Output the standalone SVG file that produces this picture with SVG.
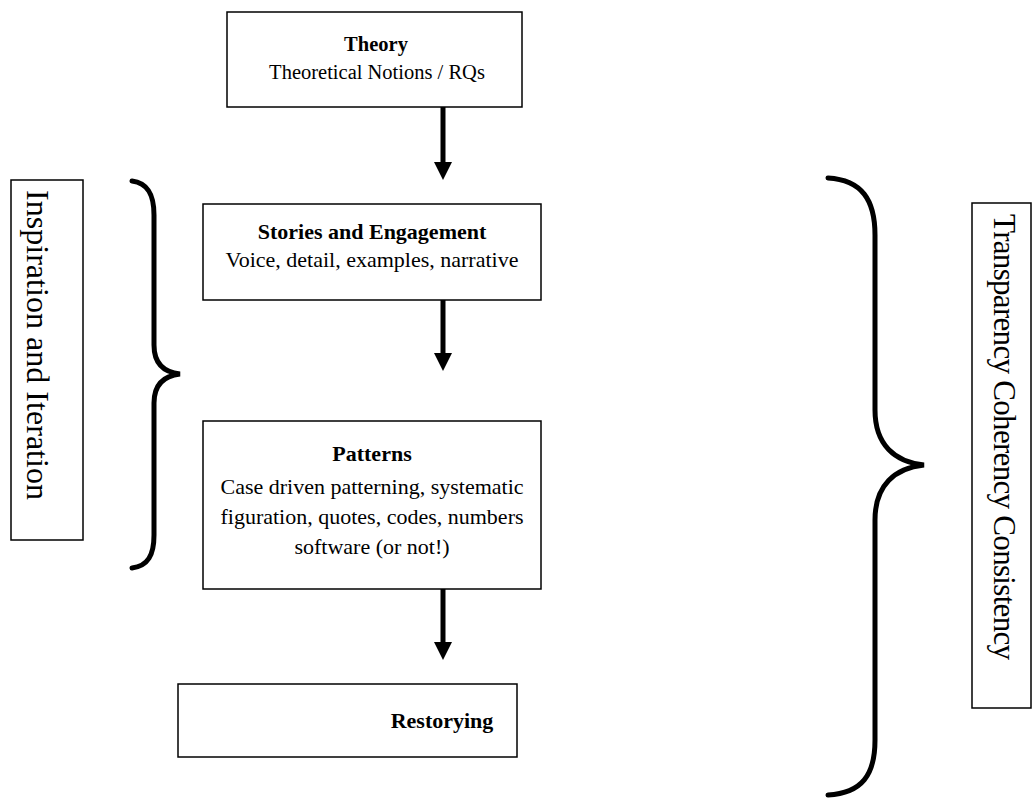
<svg xmlns="http://www.w3.org/2000/svg" width="1032" height="802" viewBox="0 0 1032 802">
<style>
.box{fill:#fff;stroke:#000;stroke-width:1.5}
.t{font-family:"Liberation Serif","Times New Roman",serif;font-size:22px;fill:#000;text-anchor:middle}
.s20{font-size:20.5px}
.b{font-weight:bold}
.side{font-family:"Liberation Serif","Times New Roman",serif;font-size:32px;fill:#000}
.arrow{stroke:#000;stroke-width:5;fill:none}
.brace{stroke:#000;stroke-width:5;fill:none;stroke-linecap:round}
</style>
<defs>
<marker id="ah" markerUnits="userSpaceOnUse" markerWidth="18" markerHeight="18" viewBox="0 0 18 18" refX="0" refY="9" orient="auto">
<path d="M0,0 L18,9 L0,18 Z" fill="#000"/>
</marker>
</defs>
<g id="theory">
<rect class="box" x="227" y="12" width="295" height="95"/>
<text class="t b s20" x="376" y="51">Theory</text>
<text class="t s20" x="377" y="79">Theoretical Notions / RQs</text>
</g>
<g id="stories">
<rect class="box" x="203" y="204" width="338" height="96"/>
<text class="t b" x="372" y="239">Stories and Engagement</text>
<text class="t" x="372" y="267">Voice, detail, examples, narrative</text>
</g>
<g id="patterns">
<rect class="box" x="203" y="421" width="338" height="168"/>
<text class="t b" x="372" y="461">Patterns</text>
<text class="t" x="372" y="494">Case driven patterning, systematic</text>
<text class="t" x="372" y="524">figuration, quotes, codes, numbers</text>
<text class="t" x="372" y="554">software (or not!)</text>
</g>
<g id="restorying">
<rect class="box" x="178" y="684" width="339" height="73"/>
<text class="t b" x="442" y="728">Restorying</text>
</g>
<g id="inspiration">
<rect class="box" x="11" y="180" width="72" height="360"/>
<text class="side" transform="translate(27,190) rotate(90)" textLength="310">Inspiration and Iteration</text>
</g>
<g id="transparency">
<rect class="box" x="972" y="203" width="59" height="505"/>
<text class="side" transform="translate(994,214) rotate(90)" style="font-size:31px" textLength="446">Transparency Coherency Consistency</text>
</g>
<g id="connectors">
<line class="arrow" x1="443" y1="107" x2="443" y2="162" marker-end="url(#ah)"/>
<line class="arrow" x1="443" y1="300" x2="443" y2="353" marker-end="url(#ah)"/>
<line class="arrow" x1="443" y1="589" x2="443" y2="642" marker-end="url(#ah)"/>
<path class="brace" d="M132,181 C148,183 154,195 154,215 L154,345 C154,362 162,372 180,374 C162,376 154,386 154,403 L154,535 C154,555 148,566 132,568"/>
<path class="brace" d="M828,178 C862,180 875,200 875,235 L875,410 C875,445 895,462 924,465 C895,468 875,485 875,520 L875,740 C875,775 862,793 828,795"/>
</g>
</svg>
